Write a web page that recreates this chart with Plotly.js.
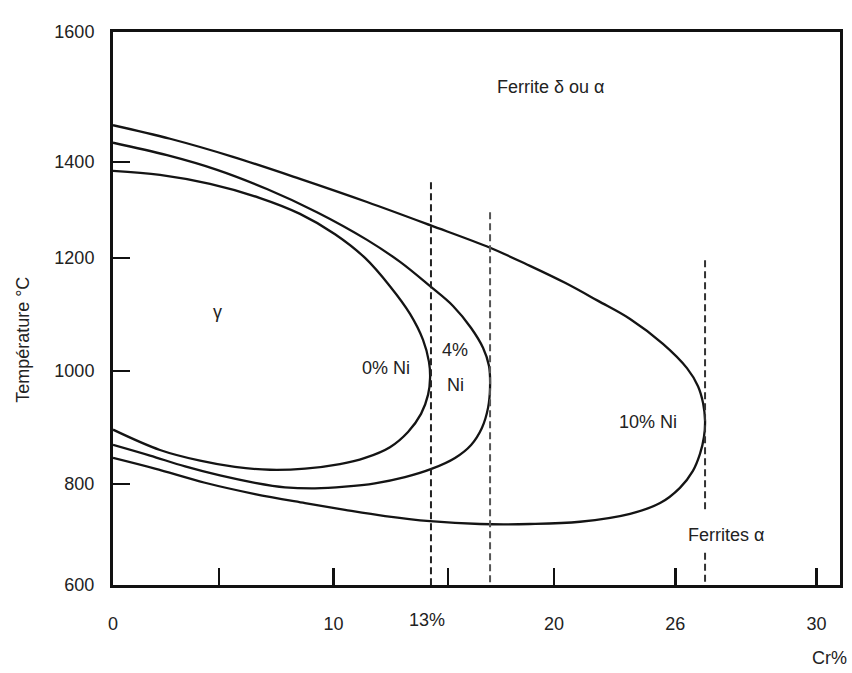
<!DOCTYPE html>
<html>
<head>
<meta charset="utf-8">
<script src="https://cdn.plot.ly/plotly-3.0.1.min.js"></script>
<style>
  html, body { margin: 0; padding: 0; background: #ffffff; }
  #chart { width: 852px; height: 673px; }
</style>
</head>
<body>
<div id="chart"></div>
<script>
// ---- Data ----
// 0 % Ni gamma loop
const ni0Cr = [0, 2.13, 4.40, 6.67, 8.48, 10.07, 11.43, 12.56, 13.47, 14.06, 14.33, 14.38, 14.29, 13.97, 13.38, 12.56, 11.43, 10.29, 8.71, 7.12, 5.53, 3.95, 2.13, 0];
const ni0T  = [1354, 1347, 1331, 1306, 1278, 1242, 1200, 1150, 1101, 1055, 1016, 988, 958, 924, 892, 865, 846, 835, 827, 825, 830, 841, 860, 896];
// 4 % Ni gamma loop
const ni4Cr = [0, 2.45, 4.72, 6.98, 9.25, 11.52, 13.02, 14.38, 15.42, 16.24, 16.78, 17.05, 17.1, 17.01, 16.73, 16.24, 15.51, 14.47, 13.24, 11.88, 10.52, 9.16, 7.80, 6.44, 4.85, 3.27, 1.68, 0];
const ni4T  = [1404, 1382, 1356, 1322, 1281, 1232, 1193, 1150, 1115, 1076, 1041, 1009, 972, 935, 899, 869, 846, 827, 812, 801, 795, 792, 794, 802, 815, 831, 850, 869];
// 10 % Ni gamma loop
const ni10Cr = [0, 2.59, 5.44, 8.48, 11.52, 14.38, 17.1, 18.91, 20.5, 22.0, 23.45, 24.94, 26.03, 26.53, 26.76, 26.85, 26.8, 26.62, 26.3, 25.71, 24.81, 23.45, 21.18, 18.91, 16.64, 14.38, 12.34, 10.52, 8.71, 6.44, 4.17, 1.9, 0];
const ni10T  = [1435, 1411, 1379, 1340, 1299, 1258, 1218, 1186, 1156, 1124, 1092, 1048, 1005, 973, 943, 911, 883, 853, 823, 793, 766, 747, 733, 729, 729, 734, 743, 754, 766, 782, 802, 827, 846];
// critical chromium contents (dashed lines)
const crit13Cr = [14.42, 14.42];
const crit13T  = [1334, 621];
const crit4Cr  = [17.1, 17.1];
const crit4T   = [1281, 621];
const crit10Cr = [26.85, 26.85, null, 26.85, 26.85];
const crit10T  = [1196, 749, null, 678, 621];
// tick labels
const crTickVals = [0, 4.8, 10, 15.2, 20, 25.5, 31.9];
const crTickText = ["0", "", "10", "", "20", "26", "30"];
const tTickVals  = [621, 800, 1000, 1200, 1370, 1600];
const tTickText  = ["600", "800", "1000", "1200", "1400", "1600"];
// region / curve labels
const labelText = ["Ferrite δ ou α", "γ", "0% Ni", "4%", "Ni", "10% Ni", "Ferrites α"];
const labelCr   = [19.82, 4.76, 12.38, 15.51, 15.51, 24.26, 27.8];
const labelT    = [1503, 1104, 1005, 1037, 975, 910, 710];

// ---- Plot ----
const FONT = "Liberation Sans, Arial, Helvetica, sans-serif";
const curveLine = {color: "#141414", width: 2.3, shape: "spline", smoothing: 1};

const traces = [
  {x: ni0Cr, y: ni0T, mode: "lines", line: curveLine, name: "0% Ni"},
  {x: ni4Cr, y: ni4T, mode: "lines", line: curveLine, name: "4% Ni"},
  {x: ni10Cr, y: ni10T, mode: "lines", line: curveLine, name: "10% Ni"},
  {x: crit13Cr, y: crit13T, mode: "lines", line: {color: "#222", width: 2, dash: "7px,4px"}},
  {x: crit4Cr, y: crit4T, mode: "lines", line: {color: "#555", width: 2, dash: "7px,4px"}},
  {x: crit10Cr, y: crit10T, mode: "lines", connectgaps: false, line: {color: "#333", width: 2, dash: "7px,4px"}}
];

const annotations = labelText.map((t, i) => ({
  x: labelCr[i], y: labelT[i], xref: "x", yref: "y", text: t,
  showarrow: false, xanchor: "center", yanchor: "middle",
  font: {family: FONT, size: 18, color: "#222"}
}));
annotations.push({
  x: 14.24, y: -0.063, xref: "x", yref: "paper", text: "13%",
  showarrow: false, xanchor: "center", yanchor: "middle",
  font: {family: FONT, size: 18, color: "#222"}
});
annotations.push({
  x: 1.012, y: -0.132, xref: "paper", yref: "paper", text: "Cr%",
  showarrow: false, xanchor: "right", yanchor: "middle",
  font: {family: FONT, size: 18, color: "#222"}
});
annotations.push({
  x: -0.124, y: 0.443, xref: "paper", yref: "paper", text: "Température °C",
  textangle: -90, showarrow: false, xanchor: "center", yanchor: "middle",
  font: {family: FONT, size: 18, color: "#222"}
});

const layout = {
  width: 852, height: 673,
  margin: {l: 113, r: 12, t: 32, b: 88, pad: 0},
  paper_bgcolor: "#ffffff", plot_bgcolor: "#ffffff",
  showlegend: false,
  font: {family: FONT, size: 18, color: "#222"},
  xaxis: {
    range: [0, 32.97], showgrid: false, zeroline: false,
    showline: true, linecolor: "#111", linewidth: 3, mirror: true,
    ticks: "inside", ticklen: 17, tickwidth: 2.5, tickcolor: "#111",
    tickmode: "array", tickvals: crTickVals, ticktext: crTickText,
    ticklabelstandoff: 20,
    tickfont: {family: FONT, size: 18, color: "#222"}
  },
  yaxis: {
    range: [621, 1600], showgrid: false, zeroline: false,
    showline: true, linecolor: "#111", linewidth: 3, mirror: true,
    ticks: "inside", ticklen: 17, tickwidth: 2.5, tickcolor: "#111",
    tickmode: "array", tickvals: tTickVals, ticktext: tTickText,
    ticklabelstandoff: 12,
    tickfont: {family: FONT, size: 18, color: "#222"}
  },
  annotations: annotations
};

Plotly.newPlot("chart", traces, layout, {staticPlot: true, displayModeBar: false});
</script>
</body>
</html>
